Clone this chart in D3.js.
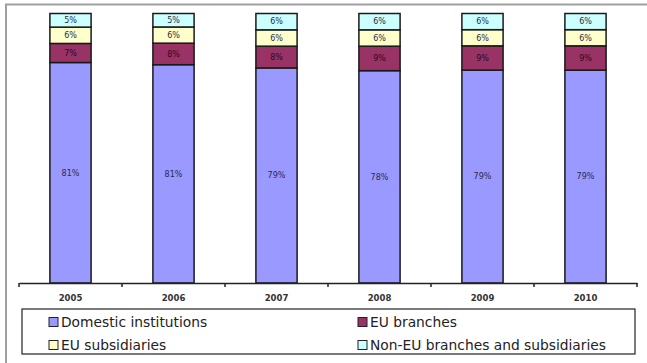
<!DOCTYPE html>
<html>
<head>
<meta charset="utf-8">
<script src="https://cdn.jsdelivr.net/npm/d3@7"></script>
<style>
  html, body { margin: 0; padding: 0; background: #fff; }
  svg { display: block; }
</style>
</head>
<body>
<svg id="chart" width="647" height="363"></svg>
<script>
// Market share by type of institution, 2005-2010 (percent)
const years = ["2005", "2006", "2007", "2008", "2009", "2010"];
const seriesNames = ["Domestic institutions", "EU branches", "EU subsidiaries", "Non-EU branches and subsidiaries"];
const domestic   = [81, 81, 79, 78, 79, 79];
const euBranches = [7, 8, 8, 9, 9, 9];
const euSubs     = [6, 6, 6, 6, 6, 6];
const nonEu      = [5, 5, 6, 6, 6, 6];
const colors = ["#9999ff", "#993366", "#ffffcc", "#ccffff"];

const rows = years.map((y, i) => ({
  year: y,
  "Domestic institutions": domestic[i],
  "EU branches": euBranches[i],
  "EU subsidiaries": euSubs[i],
  "Non-EU branches and subsidiaries": nonEu[i]
}));

const svg = d3.select("#chart");
const font = "'DejaVu Sans', Verdana, sans-serif";

// frame
svg.append("rect")
  .attr("x", 6).attr("y", 4.5).attr("width", 700).attr("height", 400)
  .attr("fill", "none").attr("stroke", "#a0a0a0").attr("stroke-width", 2);

const x = d3.scaleBand().domain(years).range([19, 637])
  .paddingInner(0.6).paddingOuter(0.3);
const y = d3.scaleLinear().domain([0, 1]).range([283, 13.5]);

const stack = d3.stack().keys(seriesNames).offset(d3.stackOffsetExpand);
const layers = stack(rows);

const g = svg.append("g");
layers.forEach((layer, li) => {
  const lg = g.append("g");
  lg.selectAll("rect").data(layer).join("rect")
    .attr("x", d => x(d.data.year))
    .attr("width", x.bandwidth())
    .attr("y", d => y(d[1]))
    .attr("height", d => y(d[0]) - y(d[1]))
    .attr("fill", colors[li])
    .attr("stroke", "#1a1a1a")
    .attr("stroke-width", 1.5);
  lg.selectAll("text").data(layer).join("text")
    .attr("x", d => x(d.data.year) + x.bandwidth() / 2)
    .attr("y", d => (y(d[0]) + y(d[1])) / 2)
    .attr("dy", "0.35em")
    .attr("text-anchor", "middle")
    .attr("font-family", font)
    .attr("font-size", 8)
    .attr("fill", li === 1 ? "#2a0a1a" : "#2a2a4a")
    .text(d => d.data[layer.key] + "%");
});

// x axis
const axis = svg.append("g").attr("transform", "translate(0,283)")
  .call(d3.axisBottom(x).tickSize(0).tickPadding(12));
axis.select(".domain").attr("stroke", "#222").attr("stroke-width", 1.5);
axis.selectAll("text").attr("font-family", font).attr("font-size", 8.5)
  .attr("font-weight", "bold").attr("fill", "#333");
const bounds = years.map(d => x(d) - x.step() * x.paddingInner() / 2).concat([637]);
axis.selectAll("line.bound").data(bounds).join("line")
  .attr("class", "bound")
  .attr("x1", d => d).attr("x2", d => d)
  .attr("y1", 0).attr("y2", 4)
  .attr("stroke", "#222").attr("stroke-width", 1.5);

// legend
const legend = svg.append("g");
legend.append("rect")
  .attr("x", 22).attr("y", 309).attr("width", 613).attr("height", 45)
  .attr("fill", "#fff").attr("stroke", "#222").attr("stroke-width", 1.2);
const legPos = [[49, 322], [358, 322], [49, 345], [358, 345]];
seriesNames.forEach((name, i) => {
  const [lx, ly] = legPos[i];
  legend.append("rect")
    .attr("x", lx).attr("y", ly - 4.5).attr("width", 9).attr("height", 9)
    .attr("fill", colors[i]).attr("stroke", "#222").attr("stroke-width", 1);
  legend.append("text")
    .attr("x", lx + 12).attr("y", ly).attr("dy", "0.35em")
    .attr("font-family", font).attr("font-size", 13.8).attr("fill", "#222")
    .text(name);
});
</script>
</body>
</html>
